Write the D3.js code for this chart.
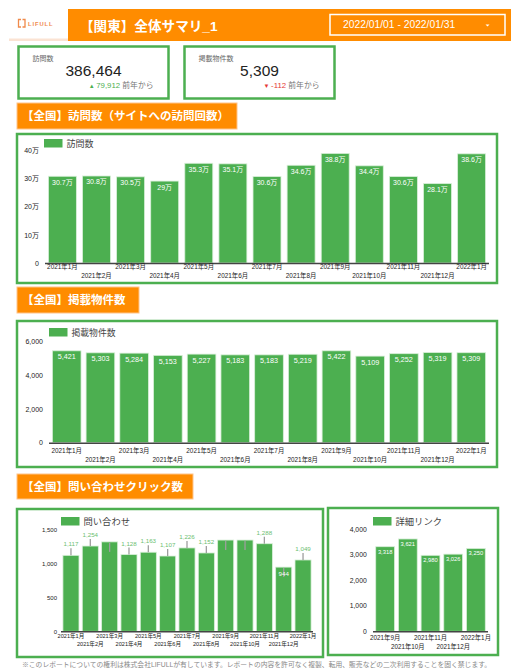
<!DOCTYPE html>
<html>
<head>
<meta charset="utf-8">
<script src="https://cdn.jsdelivr.net/npm/d3@7"></script>
<style>
  body { margin: 0; background: #fff; }
  svg { display: block; font-family: "Liberation Sans", "Noto Sans CJK JP", sans-serif; }
</style>
</head>
<body>
<div id="page"></div>
<script>
// data
var months = ["2021年1月", "2021年2月", "2021年3月", "2021年4月", "2021年5月", "2021年6月", "2021年7月",
  "2021年8月", "2021年9月", "2021年10月", "2021年11月", "2021年12月", "2022年1月"];
var visits = [307000, 308000, 305000, 290000, 353000, 351000, 306000, 346000, 388000, 344000, 306000, 281000, 386464];
var listings = [5421, 5303, 5284, 5153, 5227, 5183, 5183, 5219, 5422, 5109, 5252, 5319, 5309];
var inquiries = [1117, 1254, 1315, 1128, 1163, 1107, 1226, 1152, 1342, 1342, 1288, 944, 1049];
var detailMonths = ["2021年9月", "2021年10月", "2021年11月", "2021年12月", "2022年1月"];
var detailLinks = [3318, 3621, 2980, 3026, 3250];
var visitTicks = [0, 100000, 200000, 300000, 400000];
var listingTicks = [0, 2000, 4000, 6000];
var inquiryTicks = [0, 500, 1000, 1500];
var detailTicks = [0, 1000, 2000, 3000, 4000];

var ORANGE = "#ff8c00";
var GREEN = "#4caf50";
var fmt = d3.format(",");

var svg = d3.select("#page").append("svg")
    .attr("width", 515)
    .attr("height", 668);

// header
svg.append("rect").attr("x", 9).attr("y", 38.5).attr("width", 501).attr("height", 2.5).attr("fill", "#fbe3d3");
svg.append("rect").attr("x", 68).attr("y", 9).attr("width", 443).attr("height", 32).attr("fill", ORANGE);

// logo
svg.append("path")
    .attr("d", "M21,19.5H18.5V27H21 M22.5,19.5H25V27H22.5")
    .attr("fill", "none").attr("stroke", "#f08a4b").attr("stroke-width", 1.3);
svg.append("text").attr("x", 28).attr("y", 25.5)
    .attr("font-size", 5.8).attr("font-weight", "bold").attr("letter-spacing", 0.9)
    .attr("fill", "#f08a4b").text("LIFULL");

svg.append("text").attr("x", 80).attr("y", 31)
    .attr("font-size", 13.6).attr("font-weight", "bold").attr("fill", "#fff")
    .text("【関東】全体サマリ_1");

svg.append("rect").attr("x", 330).attr("y", 14.5).attr("width", 175).attr("height", 20.5)
    .attr("fill", "none").attr("stroke", "#fff").attr("stroke-width", 1.5);
svg.append("text").attr("x", 343).attr("y", 28)
    .attr("font-size", 10.3).attr("fill", "#fff").text("2022/01/01 - 2022/01/31");
svg.append("path").attr("d", "M485.5,24.5h4l-2,2z").attr("fill", "#fff");

// KPI cards
function kpi(x0, label, value, delta, up) {
  svg.append("rect").attr("x", x0).attr("y", 46.5).attr("width", 150).attr("height", 52)
      .attr("fill", "#fff").attr("stroke", GREEN).attr("stroke-width", 2.5);
  svg.append("text").attr("x", x0 + 14).attr("y", 61)
      .attr("font-size", 7).attr("fill", "#666").text(label);
  svg.append("text").attr("x", x0 + 75).attr("y", 76).attr("text-anchor", "middle")
      .attr("font-size", 15.5).attr("fill", "#222").text(value);
  var t = svg.append("text").attr("x", x0 + 135).attr("y", 88).attr("text-anchor", "end")
      .attr("font-size", 7.8);
  t.append("tspan").attr("font-size", 6).attr("fill", up ? GREEN : "#e53935").text(up ? "▲ " : "▼ ");
  t.append("tspan").attr("fill", up ? GREEN : "#e53935").text(delta);
  t.append("tspan").attr("fill", "#777").text(" 前年から");
}
kpi(18.5, "訪問数", "386,464", "79,912", true);
kpi(184.5, "掲載物件数", "5,309", "-112", false);

// section titles
function section(x0, y0, w, h, label) {
  svg.append("rect").attr("x", x0).attr("y", y0).attr("width", w).attr("height", h)
      .attr("fill", ORANGE).attr("stroke", "#ffc48a").attr("stroke-width", 1);
  svg.append("text").attr("x", x0 + 5).attr("y", y0 + h / 2 + 4)
      .attr("font-size", 11.5).attr("font-weight", "bold").attr("fill", "#fff").text(label);
}
section(17, 103, 220, 26, "【全国】訪問数（サイトへの訪問回数）");
section(17, 287, 122, 26, "【全国】掲載物件数");
section(17, 474, 176, 25, "【全国】問い合わせクリック数");

// bar chart
function barChart(c, cats, vals) {
  var g = svg.append("g");
  g.append("rect").attr("x", c.box[0]).attr("y", c.box[1]).attr("width", c.box[2]).attr("height", c.box[3])
      .attr("fill", "#fff").attr("stroke", GREEN).attr("stroke-width", 2.5);

  g.append("rect").attr("x", c.legend[0]).attr("y", c.legend[1]).attr("width", 18.5).attr("height", 8.5)
      .attr("fill", GREEN);
  g.append("text").attr("x", c.legend[0] + 22.5).attr("y", c.legend[1] + 8)
      .attr("font-size", c.legendFont).attr("fill", "#444").text(c.name);

  var x = d3.scaleBand().domain(cats).range(c.xr).paddingInner(c.pi).paddingOuter(c.po);
  var y = d3.scaleLinear().domain([0, c.ymax]).range(c.yr);

  var ya = g.append("g").attr("transform", "translate(" + c.tickX + ",0)")
      .call(d3.axisLeft(y).tickValues(c.ticks).tickFormat(c.tickFmt).tickSize(0).tickPadding(0));
  ya.attr("font-family", null).attr("font-size", c.tickFont).attr("color", "#1a1a1a");
  ya.select(".domain").remove();

  g.selectAll(".bar").data(vals).enter().append("rect")
      .attr("x", (d, i) => x(cats[i]))
      .attr("y", d => y(d))
      .attr("width", x.bandwidth())
      .attr("height", d => y(0) - y(d))
      .attr("fill", GREEN)
      .attr("stroke", "#d9efd9").attr("stroke-width", 0.8);

  var xa = g.append("g").attr("transform", "translate(0," + y(0) + ")")
      .call(d3.axisBottom(x).tickSize(0).tickSizeOuter(0));
  xa.attr("font-family", null).attr("font-size", c.xFont).attr("color", "#1a1a1a");
  xa.select(".domain").attr("stroke", "#444").attr("stroke-width", 1.6)
      .attr("d", "M" + c.xr[0] + ",0.5H" + c.xr[1]);
  xa.selectAll(".tick text").attr("dy", null)
      .attr("y", (d, i) => i % 2 ? c.row2 : c.row1);

  c.labels(g, x, y, cats, vals);
}

function whiteLabels(size, off, f) {
  return function(g, x, y, cats, vals) {
    g.selectAll(".vlab").data(vals).enter().append("text")
        .attr("x", (d, i) => x(cats[i]) + x.bandwidth() / 2)
        .attr("y", d => y(d) + off)
        .attr("text-anchor", "middle")
        .attr("font-size", size).attr("fill", "#fff")
        .text(f);
  };
}

var man = d => {
  var s = (d / 10000).toFixed(1);
  return (s.endsWith(".0") ? s.slice(0, -2) : s) + "万";
};

barChart({
  box: [17, 134, 480, 149], legend: [44, 139], name: "訪問数", legendFont: 9,
  xr: [45, 489], pi: 0.18, po: 0.1, ymax: 400000, yr: [263, 150],
  ticks: visitTicks, tickFmt: d => d === 0 ? "0" : (d / 10000) + "万", tickX: 39, tickFont: 7,
  xFont: 6.4, row1: 6, row2: 14.5,
  labels: whiteLabels(7, 8.5, man)
}, months, visits);

barChart({
  box: [17, 321, 480, 146], legend: [49, 328], name: "掲載物件数", legendFont: 8.8,
  xr: [49, 489], pi: 0.15, po: 0.1, ymax: 6000, yr: [442.7, 341],
  ticks: listingTicks, tickFmt: fmt, tickX: 43, tickFont: 7,
  xFont: 6.4, row1: 10.5, row2: 19,
  labels: whiteLabels(7.2, 8.5, fmt)
}, months, listings);

barChart({
  box: [17, 509, 306, 148], legend: [61, 517], name: "問い合わせ", legendFont: 9.3,
  xr: [61, 313], pi: 0.17, po: 0.1, ymax: 1500, yr: [631.3, 529.3],
  ticks: inquiryTicks, tickFmt: fmt, tickX: 57, tickFont: 6,
  xFont: 5.6, row1: 7, row2: 14.7,
  labels: function(g, x, y, cats, vals) {
    vals.forEach(function(d, i) {
      var cx = x(cats[i]) + x.bandwidth() / 2, top = y(d);
      var inside = d < 1000, hidden = d > 1300;
      g.append("line").attr("x1", cx).attr("x2", cx)
          .attr("y1", inside || hidden ? top + 1 : top - 7)
          .attr("y2", inside || hidden ? top + 10 : top)
          .attr("stroke", "#9e9e9e").attr("stroke-width", 1.3);
      if (hidden) return;
      g.append("text").attr("x", cx).attr("y", inside ? top + 9 : top - 9)
          .attr("text-anchor", "middle").attr("font-size", 6.2)
          .attr("fill", inside ? "#fff" : "#6cc070").text(fmt(d));
    });
  }
}, months, inquiries);

barChart({
  box: [328, 508, 170, 147], legend: [373, 517], name: "詳細リンク", legendFont: 9.3,
  xr: [373, 488], pi: 0.17, po: 0.12, ymax: 4000, yr: [631.3, 529.3],
  ticks: detailTicks, tickFmt: fmt, tickX: 366.7, tickFont: 6.8,
  xFont: 6.3, row1: 8.5, row2: 17.5,
  labels: whiteLabels(5.8, 7, fmt)
}, detailMonths, detailLinks);

// footer
svg.append("text").attr("x", 22).attr("y", 666.5)
    .attr("font-size", 6.8).attr("fill", "#888")
    .text("※このレポートについての権利は株式会社LIFULLが有しています。レポートの内容を許可なく複製、転用、販売などの二次利用することを固く禁じます。");
</script>
</body>
</html>
